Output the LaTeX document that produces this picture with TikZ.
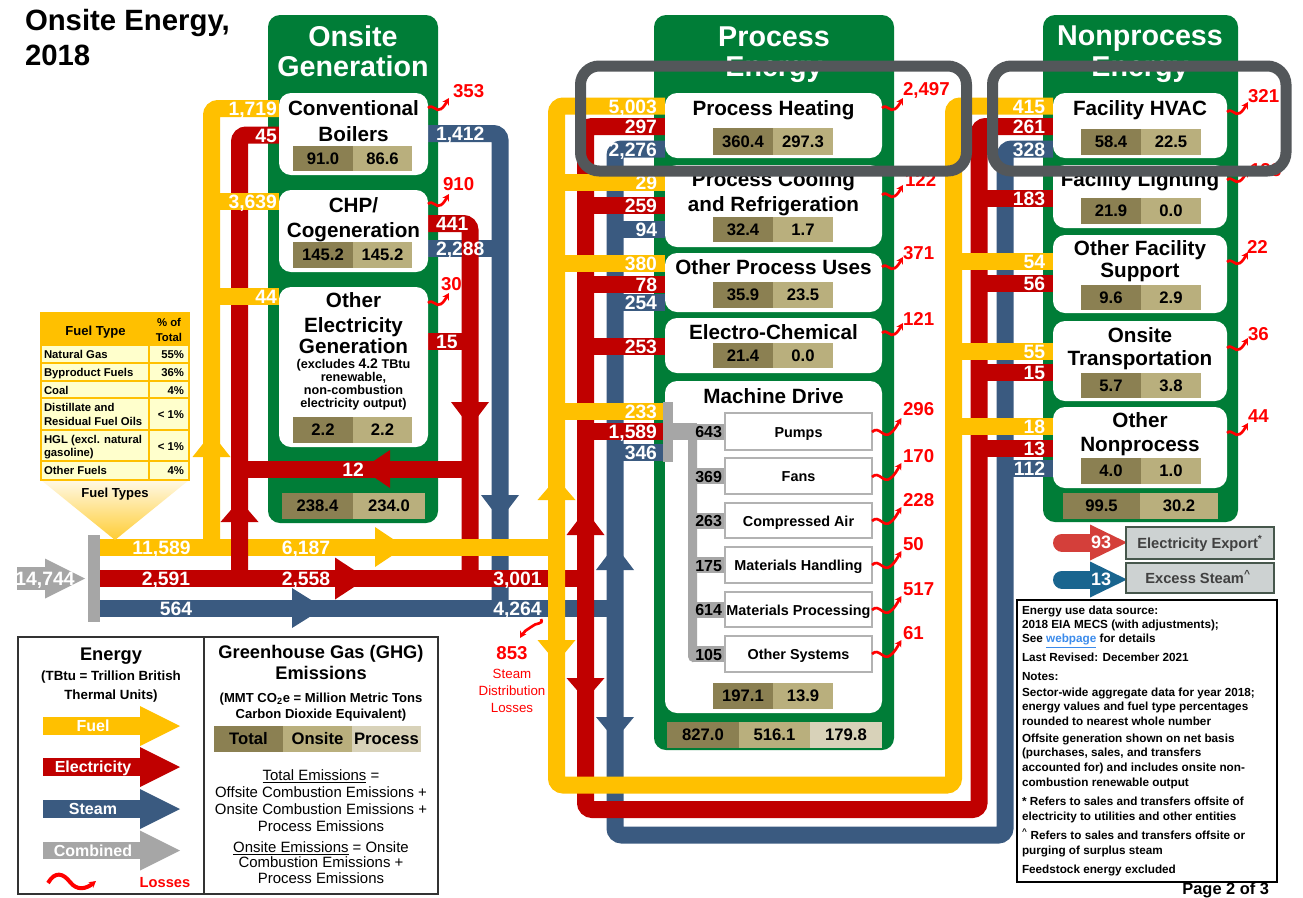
\documentclass[tikz,border=0pt]{standalone}
\usepackage{fontspec}
\setmainfont{Liberation Sans}
\usetikzlibrary{arrows.meta}
\definecolor{fuelc}{HTML}{FFC000}
\definecolor{elec}{HTML}{C00000}
\definecolor{steam}{HTML}{3A5A80}
\definecolor{comb}{HTML}{A6A6A6}
\definecolor{grn}{HTML}{007D37}
\definecolor{cT}{HTML}{8B8052}
\definecolor{cO}{HTML}{B9AF7D}
\definecolor{cP}{HTML}{D8D2B9}
\definecolor{lossred}{HTML}{FF0000}
\definecolor{framec}{HTML}{53575A}
\definecolor{tblfill}{HTML}{FFFFCC}
\definecolor{expred}{HTML}{D43F3A}
\definecolor{expblue}{HTML}{19658F}
\definecolor{expbox}{HTML}{CDD2D2}
\definecolor{expbord}{HTML}{46574C}
\definecolor{linkb}{HTML}{3B8BEB}
\definecolor{txtgray}{HTML}{404040}
\newcommand\fsz[1]{\fontsize{#1}{#1}\selectfont\bfseries}
\newcommand\fszr[1]{\fontsize{#1}{#1}\selectfont\mdseries}
\newcommand\arH[5]{\fill[#1] (#2,#4-#5) -- (#3,#4) -- (#2,#4+#5) -- cycle;}
\newcommand\arV[5]{\fill[#1] (#4-#5,#2) -- (#4,#3) -- (#4+#5,#2) -- cycle;}
\newcommand\loss[3][1]{\draw[losspath, shift={(#2,#3)}, scale=#1] (0,0) .. controls (5,-5) and (8,5) .. (13,1) .. controls (16,-1) and (18,-5) .. (21,-10);}
\newcommand\cpair[8]{%
 \node[cell, fill=cT, minimum width={(#3-#2)*0.75pt}, minimum height={(#6-#5)*0.75pt}] (#1a) at ({(#2+#3)/2},{(#5+#6)/2}) {#7};
 \node[cell, fill=cO, minimum width={(#4-#3)*0.75pt}, minimum height={(#6-#5)*0.75pt}] (#1b) at ({(#3+#4)/2},{(#5+#6)/2}) {#8};}
\tikzset{
  bandw/.style={line width=12.75pt},
  fl/.style={bandw,draw=fuelc},
  el/.style={bandw,draw=elec},
  st/.style={bandw,draw=steam},
  gbox/.style={fill=grn,rounded corners=9pt},
  wbox/.style={fill=white,rounded corners=9pt},
  gtitle/.style={text=white,font=\fsz{21.5},anchor=base},
  btitle/.style={text=black,font=\fsz{15.5},anchor=base},
  bsmall/.style={text=black,font=\fsz{9.5},anchor=base},
  cell/.style={text=black,font=\fsz{12.5}},
  blbl/.style={text=white,font=\fsz{14.5}},
  llbl/.style={text=lossred,font=\fsz{14},anchor=base west},
  losspath/.style={draw=lossred,line width=2pt,-{Stealth[length=5pt,width=5.5pt]}},
  mdbox/.style={draw=black!30,fill=white,line width=1.2pt},
  mdtxt/.style={text=black,font=\fsz{10.8},anchor=base},
  mdnum/.style={text=black,font=\fsz{12},anchor=base east},
  tbl/.style={text=black,font=\fsz{8.5},anchor=base west},
  note/.style={text=black,font=\fsz{8.8},anchor=base west},
  legr/.style={text=black,font=\fszr{11.2},anchor=base},
  legarr/.style={text=white,font=\fsz{12},anchor=base},
  callout/.style={draw=framec,line width=8.25pt,rounded corners=14pt},
}
\begin{document}
\begin{tikzpicture}[x=0.75pt,y=-0.75pt,every node/.style={inner sep=0pt,outer sep=0pt}]
\useasboundingbox (0,0) rectangle (1303,897);
\fill[white] (0,0) rectangle (1303,897);

% ---------- title
\node[anchor=base west,font=\fsz{22}] (ttl1) at (25,30) {Onsite Energy,};
\node[anchor=base west,font=\fsz{22}] (ttl2) at (25,65) {2018};

% ---------- green boxes
\fill[gbox] (268,15) rectangle (438,523);
\fill[gbox] (654,15) rectangle (894,750);
\fill[gbox] (1043,15) rectangle (1238,522);
\node[gtitle] (gt1) at (353,46) {Onsite};
\node[gtitle] (gt2) at (353,76) {Generation};
\node[gtitle] (gt3) at (774,46) {Process};
\node[gtitle] (gt4) at (774,76) {Energy};
\node[gtitle] (gt5) at (1140,45) {Nonprocess};
\node[gtitle] (gt6) at (1140,76) {Energy};

% ---------- onsite generation outputs
\draw[st, rounded corners=5pt] (428,133.5) -- (500,133.5) -- (500,608);
\draw[st] (428,248) -- (500,248);
\draw[el, rounded corners=5pt] (428,223.5) -- (470,223.5) -- (470,578.5);
\draw[el] (428,341.5) -- (470,341.5);
\draw[el] (470,469) -- (239.5,469);

% ---------- main horizontals
\draw[fl] (100,547) -- (556.5,547);
\draw[el] (100,578.5) -- (585.5,578.5);
\draw[st] (100,608) -- (615,608);

% ---------- onsite generation inputs
\draw[el, rounded corners=5pt] (279,135) -- (239.5,135) -- (239.5,578.5);
\draw[fl, rounded corners=5pt] (279,108.5) -- (211.5,108.5) -- (211.5,547);
\draw[fl] (211.5,201) -- (279,201);
\draw[fl] (211.5,296.5) -- (279,296.5);

% ---------- loops to process / nonprocess
\draw[st, rounded corners=5pt] (665,149) -- (615,149) -- (615,835) -- (1005,835) -- (1005,149) -- (1053,149);
\draw[el, rounded corners=5pt] (665,126.5) -- (585.5,126.5) -- (585.5,809.5) -- (979,809.5) -- (979,126.5) -- (1053,126.5);
\draw[fl, rounded corners=5pt] (665,106) -- (556.5,106) -- (556.5,785) -- (953.5,785) -- (953.5,106) -- (1053,106);

% blue rows
\draw[st] (615,229.5) -- (665,229.5);
\draw[st] (615,302.5) -- (665,302.5);
\draw[st] (615,452.5) -- (663,452.5);
\draw[st] (1005,468.5) -- (1053,468.5);
% red rows
\draw[el] (585.5,205) -- (665,205);
\draw[el] (585.5,284.5) -- (665,284.5);
\draw[el] (585.5,346.5) -- (665,346.5);
\draw[el] (585.5,431.5) -- (663,431.5);
\draw[el] (979,198.5) -- (1053,198.5);
\draw[el] (979,283.5) -- (1053,283.5);
\draw[el] (979,372.5) -- (1053,372.5);
\draw[el] (979,448.5) -- (1053,448.5);
% yellow rows
\draw[fl] (556.5,182.5) -- (665,182.5);
\draw[fl] (556.5,263.5) -- (665,263.5);
\draw[fl] (556.5,411) -- (663,411);
\draw[fl] (953.5,261.5) -- (1053,261.5);
\draw[fl] (953.5,351.5) -- (1053,351.5);
\draw[fl] (953.5,426.5) -- (1053,426.5);

% ---------- arrowheads
\arH{fuelc}{375}{405}{547}{20}
\arH{elec}{335}{367}{578.5}{21}
\arH{steam}{292}{324}{608}{20}
\arH{elec}{390}{362}{469}{19}
\arV{fuelc}{457}{433}{211.5}{19}
\arV{elec}{522}{500}{239.5}{19}
\arV{elec}{402}{427}{470}{19}
\arV{steam}{495}{520}{500}{19}
\arV{fuelc}{500}{478}{556.5}{19}
\arV{fuelc}{640}{663}{556.5}{19}
\arV{elec}{535}{510}{585.5}{19}
\arV{elec}{678}{700}{585.5}{19}
\arV{steam}{570}{545}{615}{19}
\arV{steam}{717}{740}{615}{19}

% ---------- combined input
\fill[comb] (88,535) rectangle (100,622);
\fill[comb] (17,567) rectangle (47,590);
\arH{comb}{45}{85}{578.5}{20}

% ---------- white boxes
\fill[wbox] (279,93) rectangle (428,175);
\fill[wbox] (279,190) rectangle (428,272);
\fill[wbox] (279,287) rectangle (428,447);
\fill[wbox] (665,93) rectangle (882,158);
\fill[wbox] (665,165) rectangle (882,247);
\fill[wbox] (665,253) rectangle (882,312);
\fill[wbox] (665,318) rectangle (882,373);
\fill[wbox] (665,381) rectangle (882,713);
\fill[wbox] (1053,93) rectangle (1227,158);
\fill[wbox] (1053,165) rectangle (1227,228);
\fill[wbox] (1053,235) rectangle (1227,313);
\fill[wbox] (1053,321) rectangle (1227,401);
\fill[wbox] (1053,407) rectangle (1227,488);

% ---------- machine drive distribution
\fill[comb] (663,402) rectangle (673,462);
\fill[comb] (673,423) rectangle (697,440);
\fill[comb, rounded corners=4pt] (688,423) rectangle (697,662);
\foreach \yy in {431.5,476,520.5,565,609.5,654} \fill[comb] (693,\yy-8) rectangle (725,\yy+8);
\foreach \a/\b in {413/450,458/494,503/538,547/583,592/627,636/672} \draw[mdbox] (725,\a) rectangle (872,\b);
\node[mdtxt] (md1) at (798.5,437) {Pumps};
\node[mdtxt] (md2) at (798.5,481.5) {Fans};
\node[mdtxt] (md3) at (798.5,526) {Compressed Air};
\node[mdtxt] (md4) at (798.5,570.5) {Materials Handling};
\node[mdtxt] (md5) at (798.5,615) {Materials Processing};
\node[mdtxt] (md6) at (798.5,659.5) {Other Systems};
\node[mdnum] (mn1) at (722,437.5) {643};
\node[mdnum] (mn2) at (722,482) {369};
\node[mdnum] (mn3) at (722,526.5) {263};
\node[mdnum] (mn4) at (722,571) {175};
\node[mdnum] (mn5) at (722,615) {614};
\node[mdnum] (mn6) at (722,660) {105};

% ---------- box titles
\node[btitle] (cb1) at (353.5,115) {Conventional};
\node[btitle] (cb2) at (353.5,141) {Boilers};
\node[btitle] (ch1) at (353.5,212) {CHP/};
\node[btitle] (ch2) at (353.5,237) {Cogeneration};
\node[btitle] (oe1) at (353.5,307) {Other};
\node[btitle] (oe2) at (353.5,332) {Electricity};
\node[btitle] (oe3) at (353.5,353) {Generation};
\node[bsmall] (oe4) at (353.5,368) {(excludes {\fsz{10.5}4.2} TBtu};
\node[bsmall] (oe5) at (353.5,381) {renewable,};
\node[bsmall] (oe6) at (353.5,394.5) {non-combustion};
\node[bsmall] (oe7) at (353.5,407.5) {electricity output)};
\node[btitle] (ph) at (773.5,115) {Process Heating};
\node[btitle] (pc1) at (773.5,186) {Process Cooling};
\node[btitle] (pc2) at (773.5,211) {and Refrigeration};
\node[btitle] (po) at (773.5,274) {Other Process Uses};
\node[btitle] (pe) at (773.5,339) {Electro-Chemical};
\node[btitle] (pm) at (773.5,403) {Machine Drive};
\node[btitle] (nh) at (1140,115) {Facility HVAC};
\node[btitle] (nl) at (1140,186) {Facility Lighting};
\node[btitle] (ns1) at (1140,255) {Other Facility};
\node[btitle] (ns2) at (1140,277) {Support};
\node[btitle] (nt1) at (1140,342) {Onsite};
\node[btitle] (nt2) at (1140,365) {Transportation};
\node[btitle] (no1) at (1140,427) {Other};
\node[btitle] (no2) at (1140,451) {Nonprocess};

% ---------- emission cells
\cpair{cb}{293}{353}{412}{146}{171}{91.0}{86.6}
\cpair{ch}{293}{353}{412}{242}{268}{145.2}{145.2}
\cpair{oe}{293}{353}{412}{417}{443}{2.2}{2.2}
\cpair{og}{282}{353}{425}{493}{519}{238.4}{234.0}
\cpair{ph}{713}{773}{833}{128}{155}{360.4}{297.3}
\cpair{pc}{713}{773}{833}{217}{242}{32.4}{1.7}
\cpair{po}{713}{773}{833}{282}{308}{35.9}{23.5}
\cpair{pe}{713}{773}{833}{343}{368}{21.4}{0.0}
\cpair{pm}{713}{773}{833}{683}{709}{197.1}{13.9}
\cpair{pb}{667}{739}{810}{722}{748}{827.0}{516.1}
\node[cell, fill=cP, minimum width={72*0.75pt}, minimum height={26*0.75pt}] (pbc) at (846,735) {179.8};
\cpair{nh}{1081}{1141}{1201}{129}{155}{58.4}{22.5}
\cpair{nl}{1081}{1141}{1201}{198}{224}{21.9}{0.0}
\cpair{ns}{1081}{1141}{1201}{285}{310}{9.6}{2.9}
\cpair{nt}{1081}{1141}{1201}{373}{398}{5.7}{3.8}
\cpair{no}{1081}{1141}{1201}{458}{484}{4.0}{1.0}
\cpair{nb}{1063}{1140}{1218}{493}{519}{99.5}{30.2}

% ---------- losses
\loss{428}{108}
\loss{428}{204}
\loss{428}{303}
\loss{882}{108}
\loss{882}{195}
\loss{882}{267}
\loss{882}{333}
\loss[1.4]{872}{432}
\loss[1.4]{872}{477}
\loss[1.4]{872}{521}
\loss[1.4]{872}{565}
\loss[1.4]{872}{610}
\loss[1.4]{872}{654}
\loss{1227}{112}
\loss{1227}{180}
\loss{1227}{262}
\loss{1227}{348}
\loss{1227}{433}
\node[llbl] (ls1) at (453,97) {353};
\node[llbl] (ls2) at (443,190) {910};
\node[llbl] (ls3) at (441,290) {30};
\node[llbl] (ls4) at (903,95) {2,497};
\node[llbl] (ls5) at (905,186) {122};
\node[llbl] (ls6) at (903,259) {371};
\node[llbl] (ls7) at (903,325) {121};
\node[llbl] (ls8) at (903,415) {296};
\node[llbl] (ls9) at (903,462) {170};
\node[llbl] (ls10) at (903,506) {228};
\node[llbl] (ls11) at (903,550) {50};
\node[llbl] (ls12) at (903,595) {517};
\node[llbl] (ls13) at (903,639) {61};
\node[llbl] (ls14) at (1248,102) {321};
\node[llbl] (ls15) at (1250,176) {128};
\node[llbl] (ls16) at (1247,253) {22};
\node[llbl] (ls17) at (1248,340) {36};
\node[llbl] (ls18) at (1248,422) {44};
\draw[losspath, shift={(541,619)}] (0,0) .. controls (3,6) and (-5,3) .. (-10,8) .. controls (-14,11) and (-17,12) .. (-21,19);
\node[llbl, anchor=base] (ls19) at (512,659) {853};
\node[text=lossred,font=\fszr{10},anchor=base] (sd1) at (512,678) {Steam};
\node[text=lossred,font=\fszr{10},anchor=base] (sd2) at (512,695) {Distribution};
\node[text=lossred,font=\fszr{10},anchor=base] (sd3) at (512,712) {Losses};

% ---------- band labels
\node[blbl, anchor=base] (b1) at (161.5,554) {11,589};
\node[blbl, anchor=base] (b2) at (306,554) {6,187};
\node[blbl, anchor=base] (b3) at (166,585.5) {2,591};
\node[blbl, anchor=base] (b4) at (306,585.5) {2,558};
\node[blbl, anchor=base] (b5) at (176,615) {564};
\node[blbl, anchor=base] (b6) at (517.5,585.5) {3,001};
\node[blbl, anchor=base] (b7) at (517.5,615) {4,264};
\node[blbl, anchor=base] (b8) at (353,476) {12};
\node[blbl, anchor=base] (b9) at (45,585) {14,744};
\node[blbl, anchor=base east] (b10) at (277,115.5) {1,719};
\node[blbl, anchor=base east] (b11) at (277,142) {45};
\node[blbl, anchor=base east] (b12) at (277,208) {3,639};
\node[blbl, anchor=base east] (b13) at (277,303.5) {44};
\node[blbl, anchor=base west] (b14) at (436,140.5) {1,412};
\node[blbl, anchor=base west] (b15) at (436,230.5) {441};
\node[blbl, anchor=base west] (b16) at (436,255) {2,288};
\node[blbl, anchor=base west] (b17) at (436,348.5) {15};
\node[blbl, anchor=base east] (b18) at (657,113) {5,003};
\node[blbl, anchor=base east] (b19) at (657,133.5) {297};
\node[blbl, anchor=base east] (b20) at (657,156) {2,276};
\node[blbl, anchor=base east] (b21) at (657,189.5) {29};
\node[blbl, anchor=base east] (b22) at (657,212) {259};
\node[blbl, anchor=base east] (b23) at (657,236.5) {94};
\node[blbl, anchor=base east] (b24) at (657,270.5) {380};
\node[blbl, anchor=base east] (b25) at (657,291.5) {78};
\node[blbl, anchor=base east] (b26) at (657,309.5) {254};
\node[blbl, anchor=base east] (b27) at (657,353.5) {253};
\node[blbl, anchor=base east] (b28) at (657,418) {233};
\node[blbl, anchor=base east] (b29) at (657,438.5) {1,589};
\node[blbl, anchor=base east] (b30) at (657,459.5) {346};
\node[blbl, anchor=base east] (b31) at (1045,113) {415};
\node[blbl, anchor=base east] (b32) at (1045,133.5) {261};
\node[blbl, anchor=base east] (b33) at (1045,156) {328};
\node[blbl, anchor=base east] (b34) at (1045,205.5) {183};
\node[blbl, anchor=base east] (b35) at (1045,268.5) {54};
\node[blbl, anchor=base east] (b36) at (1045,290.5) {56};
\node[blbl, anchor=base east] (b37) at (1045,358.5) {55};
\node[blbl, anchor=base east] (b38) at (1045,379.5) {15};
\node[blbl, anchor=base east] (b39) at (1045,433.5) {18};
\node[blbl, anchor=base east] (b40) at (1045,455.5) {13};
\node[blbl, anchor=base east] (b41) at (1045,475.5) {112};

% ---------- fuel type table
\fill[fuelc] (41,313) rectangle (189,345);
\fill[tblfill] (41,345) rectangle (189,480);
\shade[top color=fuelc!10, bottom color=fuelc!80] (41,480) -- (189,480) -- (115,540) -- cycle;
\draw[fuelc, line width=1.2pt] (41,313) rectangle (189,480);
\foreach \yy in {345,363,381,398,430,461} \draw[fuelc, line width=1.2pt] (41,\yy) -- (189,\yy);
\draw[fuelc, line width=1.2pt] (149,313) -- (149,480);
\node[font=\fsz{9.8},anchor=base] (ft0) at (95.5,335) {Fuel Type};
\node[font=\fsz{8.5},anchor=base] (ft0a) at (169,326) {\% of};
\node[font=\fsz{8.5},anchor=base] (ft0b) at (169,341) {Total};
\node[tbl] (ft1) at (44,358) {Natural Gas};
\node[tbl] (ft2) at (44,376) {Byproduct Fuels};
\node[tbl] (ft3) at (44,394) {Coal};
\node[tbl] (ft4) at (44,411.5) {Distillate and};
\node[tbl] (ft5) at (44,425.5) {Residual Fuel Oils};
\node[tbl] (ft6) at (44,443) {HGL (excl. natural};
\node[tbl] (ft7) at (44,456.5) {gasoline)};
\node[tbl] (ft8) at (44,474.5) {Other Fuels};
\node[tbl, anchor=base east] (fp1) at (184,358) {55\%};
\node[tbl, anchor=base east] (fp2) at (184,376) {36\%};
\node[tbl, anchor=base east] (fp3) at (184,394) {4\%};
\node[tbl, anchor=base east] (fp4) at (184,418) {< 1\%};
\node[tbl, anchor=base east] (fp5) at (184,450) {< 1\%};
\node[tbl, anchor=base east] (fp6) at (184,474.5) {4\%};
\node[font=\fsz{9.8},anchor=base] (ftt) at (115,497) {Fuel Types};

% ---------- legend
\draw[line width=1.2pt, black!80] (18,637) rectangle (438,894);
\draw[line width=1.2pt, black!80] (204,637) -- (204,894);
\node[font=\fsz{13.7},anchor=base] (le1) at (111,660) {Energy};
\node[font=\fsz{10},anchor=base] (le2) at (111,680) {(TBtu = Trillion British};
\node[font=\fsz{10},anchor=base] (le3) at (111,699) {Thermal Units)};
\fill[fuelc] (43,717) rectangle (141,735); \arH{fuelc}{140}{180}{726}{20}
\fill[elec] (43,758) rectangle (141,776); \arH{elec}{140}{180}{767}{20}
\fill[steam] (43,800) rectangle (141,818); \arH{steam}{140}{180}{809}{20}
\fill[comb] (43,842) rectangle (141,859); \arH{comb}{140}{180}{850.5}{20}
\node[legarr] (la1) at (93,731.5) {Fuel};
\node[legarr] (la2) at (93,772.5) {Electricity};
\node[legarr] (la3) at (93,814.5) {Steam};
\node[legarr] (la4) at (93,856) {Combined};
\draw[losspath, line width=3pt] (48,883) .. controls (55,871) and (63,873) .. (70,882) .. controls (77,891) and (86,889) .. (96,881);
\node[font=\fsz{11},text=lossred,anchor=base] (ll) at (165,887) {Losses};
\node[font=\fsz{13.7},anchor=base] (lg1) at (321,658) {Greenhouse Gas (GHG)};
\node[font=\fsz{13.7},anchor=base] (lg2) at (321,679) {Emissions};
\node[font=\fsz{9.8},anchor=base] (lg3) at (321,702) {(MMT CO\textsubscript{2}e = Million Metric Tons};
\node[font=\fsz{9.8},anchor=base] (lg4) at (321,718) {Carbon Dioxide Equivalent)};
\cpair{lc}{214}{283}{352}{726}{752}{Total}{Onsite}
\node[cell, fill=cP, minimum width={69*0.75pt}, minimum height={26*0.75pt}] (lcc) at (386.5,739) {Process};
\node[legr] (lg5) at (321,780) {\underline{Total Emissions} =};
\node[legr] (lg6) at (321,797) {Offsite Combustion Emissions +};
\node[legr] (lg7) at (321,814) {Onsite Combustion Emissions +};
\node[legr] (lg8) at (321,831) {Process Emissions};
\node[legr] (lg9) at (321,852) {\underline{Onsite Emissions} = Onsite};
\node[legr] (lg10) at (321,867) {Combustion Emissions +};
\node[legr] (lg11) at (321,883) {Process Emissions};

% ---------- exports
\draw[expred, line width=13.5pt, line cap=round] (1062,542.5) -- (1092,542.5);
\arH{expred}{1090}{1127}{542.5}{18}
\draw[expblue, line width=13.5pt, line cap=round] (1062,579.5) -- (1092,579.5);
\arH{expblue}{1090}{1127}{579.5}{18}
\node[blbl, font=\fsz{13.5}, anchor=base] (e93) at (1101,548) {93};
\node[blbl, font=\fsz{13.5}, anchor=base] (e13) at (1101,585) {13};
\draw[fill=expbox, draw=expbord, line width=1.2pt] (1126,527) rectangle (1274,559);
\draw[fill=expbox, draw=expbord, line width=1.2pt] (1126,563) rectangle (1274,593);
\node[font=\fsz{11},text=txtgray,anchor=base] (ex1) at (1200,548) {Electricity Export\textsuperscript{*}};
\node[font=\fsz{11},text=txtgray,anchor=base] (ex2) at (1198,583) {Excess Steam\textsuperscript{\textasciicircum}};

% ---------- notes
\draw[line width=1.5pt] (1017,600) rectangle (1277,882);
\node[note] (n1) at (1022,614) {Energy use data source:};
\node[note] (n2) at (1022,628.5) {2018 EIA MECS (with adjustments);};
\node[note] (n3) at (1022,642.5) {See \textcolor{linkb}{\underline{webpage}} for details};
\node[note] (n4) at (1022,661) {Last Revised: December 2021};
\node[note] (n5) at (1022,680) {Notes:};
\node[note] (n6) at (1022,696) {Sector-wide aggregate data for year 2018;};
\node[note] (n7) at (1022,710.5) {energy values and fuel type percentages};
\node[note] (n8) at (1022,725) {rounded to nearest whole number};
\node[note] (n9) at (1022,742) {Offsite generation shown on net basis};
\node[note] (n10) at (1022,756.5) {(purchases, sales, and transfers};
\node[note] (n11) at (1022,771) {accounted for) and includes onsite non-};
\node[note] (n12) at (1022,786) {combustion renewable output};
\node[note] (n13) at (1022,805.5) {* Refers to sales and transfers offsite of};
\node[note] (n14) at (1022,820) {electricity to utilities and other entities};
\node[note] (n15) at (1022,839.5) {\textsuperscript{\textasciicircum} Refers to sales and transfers offsite or};
\node[note] (n16) at (1022,854) {purging of surplus steam};
\node[note] (n17) at (1022,873) {Feedstock energy excluded};
\node[font=\fsz{12.3},anchor=base east] (pg) at (1269,894) {Page 2 of 3};

% ---------- callout frames
\draw[callout] (580.5,66) rectangle (966.5,171);
\draw[callout] (992.5,66) rectangle (1286,171);
\end{tikzpicture}
\end{document}
